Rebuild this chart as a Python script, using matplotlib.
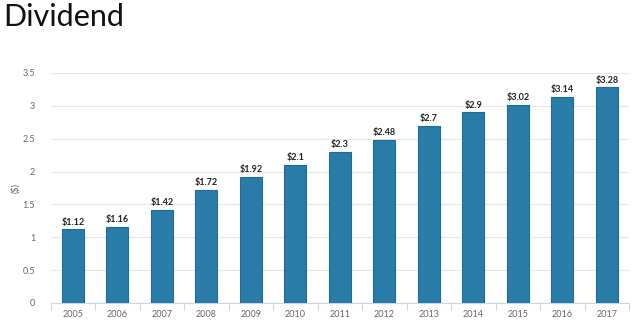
import matplotlib
matplotlib.use("Agg")
import matplotlib.pyplot as plt
import numpy as np

years = ["2005","2006","2007","2008","2009","2010","2011","2012","2013","2014","2015","2016","2017"]
dividends = [1.12, 1.16, 1.42, 1.72, 1.92, 2.10, 2.30, 2.48, 2.70, 2.90, 3.02, 3.14, 3.28]
value_labels = ["$1.12","$1.16","$1.42","$1.72","$1.92","$2.1","$2.3","$2.48","$2.7","$2.9","$3.02","$3.14","$3.28"]
yticks = [0, 0.5, 1, 1.5, 2, 2.5, 3, 3.5]
ytick_labels = ["0","0.5","1","1.5","2","2.5","3","3.5"]

plt.rcParams['font.family'] = ['Lato', 'DejaVu Sans']

fig = plt.figure(figsize=(6.4, 3.26), dpi=100)
ax = fig.add_axes([50.5/640, 23/326, (629-50.5)/640, (303-73)/326])

x = np.arange(len(years))
ax.bar(x, dividends, width=0.5, color="#2a7ca8", edgecolor="#1d6b99", linewidth=0.8, zorder=3)
for xi, v, lab in zip(x, dividends, value_labels):
    ax.text(xi, v + 0.04, lab, ha="center", va="bottom", fontsize=6.5, fontweight="bold", color="#222222", clip_on=False)

ax.set_xlim(-0.5, len(years) - 0.5)
ax.set_ylim(0, 3.5)
ax.set_yticks(yticks)
ax.set_yticklabels(ytick_labels)
ax.set_xticks(x)
ax.set_xticklabels(years)
ax.set_xticks(np.arange(-0.5, len(years), 1), minor=True)
ax.tick_params(axis="x", which="major", length=0, labelsize=6.5, labelcolor="#666666", pad=5)
ax.tick_params(axis="x", which="minor", length=5, color="#ccd6eb", width=0.8)
ax.tick_params(axis="y", length=0, labelsize=6.5, labelcolor="#666666", pad=11)
ax.grid(axis="y", color="#e6e6e6", linewidth=0.8, zorder=0)
for s in ["top", "right", "left"]:
    ax.spines[s].set_visible(False)
ax.spines["bottom"].set_color("#ccd6eb")
ax.spines["bottom"].set_linewidth(0.8)
ax.set_ylabel("($)", fontsize=6.5, color="#666666")
ax.yaxis.set_label_coords((20 - 50.5) / 578.5, 0.5)

fig.text(0.005, 0.99, "Dividend", fontsize=22, color="#111111", ha="left", va="top")

fig.savefig("out.png", dpi=100)
